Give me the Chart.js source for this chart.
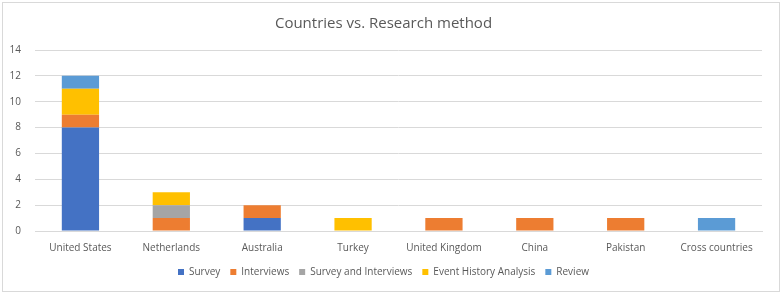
<!DOCTYPE html>
<html><head><meta charset="utf-8">
<script src="https://cdn.jsdelivr.net/npm/chart.js@4/dist/chart.umd.min.js"></script>
<style>html,body{margin:0;padding:0;background:#fff;}#wrap{width:782px;height:294px;position:relative;}</style>
</head><body><div id="wrap"><canvas id="c" width="782" height="294"></canvas></div>
<script>
const categories = ["United States","Netherlands","Australia","Turkey","United Kingdom","China","Pakistan","Cross countries"];
const survey = [8,0,1,0,0,0,0,0];
const interviews = [1,1,1,0,1,1,1,0];
const surveyAndInterviews = [0,1,0,0,0,0,0,0];
const eventHistoryAnalysis = [2,1,0,1,0,0,0,0];
const review = [1,0,0,0,0,0,0,1];
const yTicks = [0,2,4,6,8,10,12,14];

const borderPlugin = {id:'border', afterDraw(chart){const ctx=chart.ctx;ctx.save();ctx.strokeStyle='#d9d9d9';ctx.lineWidth=1;ctx.strokeRect(2.5,2.5,777,289);ctx.restore();}};
const tickFont = {family:"'Open Sans', 'Liberation Sans', sans-serif", size:10};
const ds = (label,data,color)=>({label,data:data.map(v=>v===0?null:v),backgroundColor:color,barPercentage:0.41,categoryPercentage:1});
new Chart(document.getElementById('c'),{
  type:'bar',
  data:{labels:categories,datasets:[
    ds('Survey',survey,'#4472C4'),
    ds('Interviews',interviews,'#ED7D31'),
    ds('Survey and Interviews',surveyAndInterviews,'#A5A5A5'),
    ds('Event History Analysis',eventHistoryAnalysis,'#FFC000'),
    ds('Review',review,'#5B9BD5')
  ]},
  options:{
    responsive:false,animation:false,
    layout:{padding:{left:5,right:20,top:8,bottom:7}},
    plugins:{
      title:{display:true,text:'Countries vs. Research method',color:'#595959',font:{family:"'Open Sans', 'Liberation Sans', sans-serif",size:15,weight:'normal'},padding:{top:7,bottom:17}},
      legend:{position:'bottom',labels:{boxWidth:6,boxHeight:6,color:'#595959',font:tickFont,padding:10}},
      tooltip:{enabled:false}
    },
    scales:{
      x:{stacked:true,grid:{display:false},border:{display:true,color:'#d9d9d9'},ticks:{color:'#595959',font:tickFont,maxRotation:0,autoSkip:false}},
      y:{stacked:true,min:0,max:14,afterBuildTicks(s){s.ticks=yTicks.map(v=>({value:v}));},
         afterFit(s){s.width=30;},
         grid:{color:'#d9d9d9',drawTicks:false},border:{display:false},
         ticks:{color:'#595959',font:tickFont,padding:14}}
    }
  },
  plugins:[borderPlugin]
});
</script></body></html>
